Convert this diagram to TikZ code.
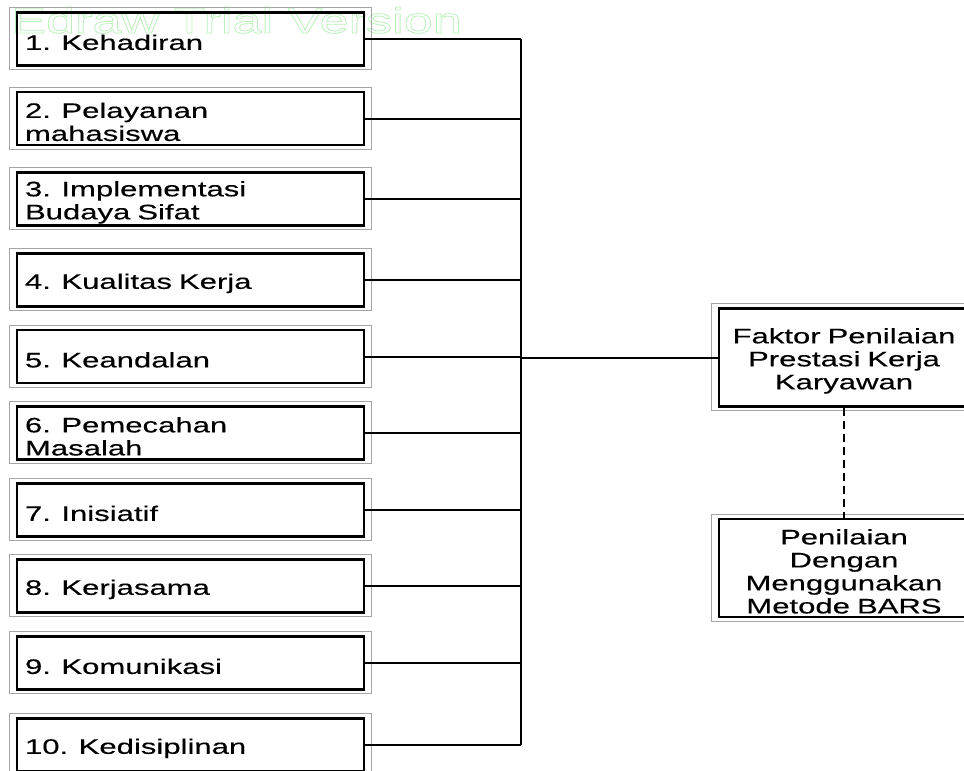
\documentclass[tikz,border=0pt]{standalone}
\usepackage{fontspec}
\setmainfont{Liberation Sans}[FakeStretch=1.48,FakeBold=0.3]
\newfontfamily\edrawfont{Liberation Sans}[FakeStretch=1.45]
\definecolor{bingkai}{RGB}{165,165,165}
\definecolor{edraw}{RGB}{185,240,185}
\begin{document}
\begin{tikzpicture}[x=1pt,y=-1pt]
	\tikzstyle{frame}=[draw=bingkai, line width=0.8pt]
	\tikzstyle{kotak}=[draw=black, line width=2.4pt, minimum height=53pt, inner xsep=8pt, inner ysep=2pt, font=\fontsize{21}{23}\selectfont,
		execute at begin node={\rule{0pt}{22pt}},
		append after command={\pgfextra{\draw[frame] ([xshift=-6.5pt,yshift=3.5pt]\tikzlastnode.north west) rectangle ([xshift=6.5pt,yshift=-2.8pt]\tikzlastnode.south east);}}]
	\tikzstyle{kiri}=[kotak, text width=331pt, align=left]
	\tikzstyle{hasil}=[kotak, text width=234pt, minimum height=98pt, align=center]
	\tikzstyle{edge}=[draw=black, line width=2pt]

	\useasboundingbox (0,0) rectangle (964,771);

	 % watermark first, so the outline mode is not reset
	 \node [anchor=base west, inner sep=0pt, text=edraw, font=\edrawfont\fontsize{36}{36}\selectfont] (watermark) at (11,33)
	   {\special{pdf:literal direct 1 Tr 0.8 w}Edraw Trial Version\special{pdf:literal direct 0 Tr}};

	 \node [kiri] (1) at (190.5,39) {1. Kehadiran};
	 \node [kiri] (2) at (190.5,118.5) {2. Pelayanan\\mahasiswa};
	 \node [kiri] (3) at (190.5,199) {3. Implementasi\\Budaya Sifat};
	 \node [kiri] (4) at (190.5,280) {4. Kualitas Kerja};
	 \node [kiri] (5) at (190.5,356.5) {5. Keandalan};
	 \node [kiri] (6) at (190.5,433) {6. Pemecahan\\Masalah};
	 \node [kiri] (7) at (190.5,510) {7. Inisiatif};
	 \node [kiri] (8) at (190.5,586) {8. Kerjasama};
	 \node [kiri] (9) at (190.5,663) {9. Komunikasi};
	 \node [kiri] (10) at (190.5,745) {10. Kedisiplinan};

	 \node [hasil] (faktor) at (844,357.5) {Faktor Penilaian\\Prestasi Kerja\\Karyawan};
	 \node [hasil] (bars) at (844,568) {Penilaian\\Dengan\\Menggunakan\\Metode BARS};

	 \coordinate (atas) at (521,39);
	 \coordinate (bawah) at (521,745);

	 \path[edge] (atas) -- (bawah);
	 \path[edge] (1.east) -- (atas);
	 \path[edge] (2.east) -- (2.east -| atas);
	 \path[edge] (3.east) -- (3.east -| atas);
	 \path[edge] (4.east) -- (4.east -| atas);
	 \path[edge] (5.east) -- (5.east -| atas);
	 \path[edge] (6.east) -- (6.east -| atas);
	 \path[edge] (7.east) -- (7.east -| atas);
	 \path[edge] (8.east) -- (8.east -| atas);
	 \path[edge] (9.east) -- (9.east -| atas);
	 \path[edge] (10.east) -- (bawah);
	 \path[edge] (faktor.west -| atas) -- (faktor.west);
	 \path[edge, dash pattern=on 8pt off 5pt] (faktor) -- (bars);

\end{tikzpicture}
\end{document}
